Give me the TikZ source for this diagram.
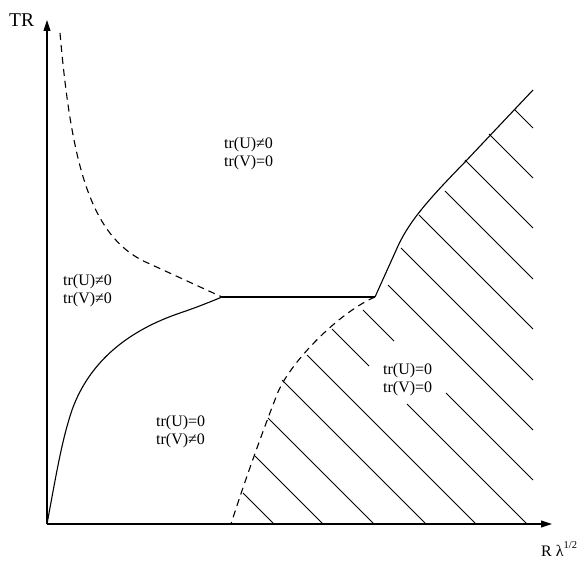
\documentclass[tikz,border=0pt]{standalone}
\usepackage{fontspec}
\setmainfont{Liberation Serif}
\usetikzlibrary{arrows.meta}
\tikzset{
  axis/.style={line width=1.1pt,-{Triangle[length=11pt,width=7pt]}},
  bound/.style={line width=1.1pt,line join=round},
  dashb/.style={line width=1.1pt,dash pattern=on 7pt off 5pt},
  hatch/.style={line width=0.8pt},
  region/.style={inner sep=0pt,anchor=west,align=left,font=\fontsize{16}{18}\selectfont},
}
\begin{document}
\begin{tikzpicture}[x=1pt,y=-1pt]
\useasboundingbox (0,0) rectangle (584,561);
% axes
\coordinate (O) at (47,524);
\coordinate (Ytip) at (47,20);
\coordinate (Xtip) at (552,524);
\draw[axis] (O) -- (Ytip);
\draw[axis] (O) -- (Xtip);
\node[inner sep=0pt,anchor=base west,font=\fontsize{19.5}{20}\selectfont] (TR) at (9,27) {TR};
\node[inner sep=0pt,anchor=base west,font=\fontsize{16}{16}\selectfont] (Rl) at (541,556) {R λ\raisebox{8pt}{\fontsize{10.5}{11}\selectfont 1/2}};
% key points
\coordinate (P1) at (222,297);
\coordinate (P2) at (375,297);
% upper dashed curve
\draw[dashb] (60,33) .. controls (72,170) and (92,240) .. (150,264) -- (P1);
% lower solid curve
\draw[bound] (O) .. controls (57,470) and (62,440) .. (72,410)
  .. controls (90,360) and (130,330) .. (180,313)
  .. controls (195,308) and (210,302) .. (P1);
% horizontal
\draw[bound] (P1) -- (P2);
% right boundary
\draw[bound] (P2) -- (398,246) .. controls (410,220) and (430,198) .. (465,162) -- (533,90);
% lower dashed curve
\draw[dashb] (P2) .. controls (340,312) and (292,360) .. (278,392)
  .. controls (265,425) and (245,480) .. (231,524);
% hatching
\draw[hatch] (514,109) -- (533,128);
\draw[hatch] (489,134) -- (533,178);
\draw[hatch] (465,160) -- (533,228);
\draw[hatch] (445,191) -- (533,279);
\draw[hatch] (419,215) -- (533,329);
\draw[hatch] (401,248) -- (533,380);
\draw[hatch] (388,285) -- (533,430);
\draw[hatch] (363,310) -- (394,341);
\draw[hatch] (446,393) -- (533,480);
\draw[hatch] (332,329) -- (369,366);
\draw[hatch] (407,404) -- (527,524);
\draw[hatch] (307,355) -- (476,524);
\draw[hatch] (282,380) -- (426,524);
\draw[hatch] (268,418) -- (374,524);
\draw[hatch] (255,456) -- (323,524);
\draw[hatch] (243,493) -- (274,524);
% region labels
\node[region] (A) at (224,154) {tr(U)≠0\\tr(V)=0};
\node[region] (B) at (63,291) {tr(U)≠0\\tr(V)≠0};
\node[region] (C) at (156,432) {tr(U)=0\\tr(V)≠0};
\node[region] (D) at (383,380) {tr(U)=0\\tr(V)=0};
\end{tikzpicture}
\end{document}
